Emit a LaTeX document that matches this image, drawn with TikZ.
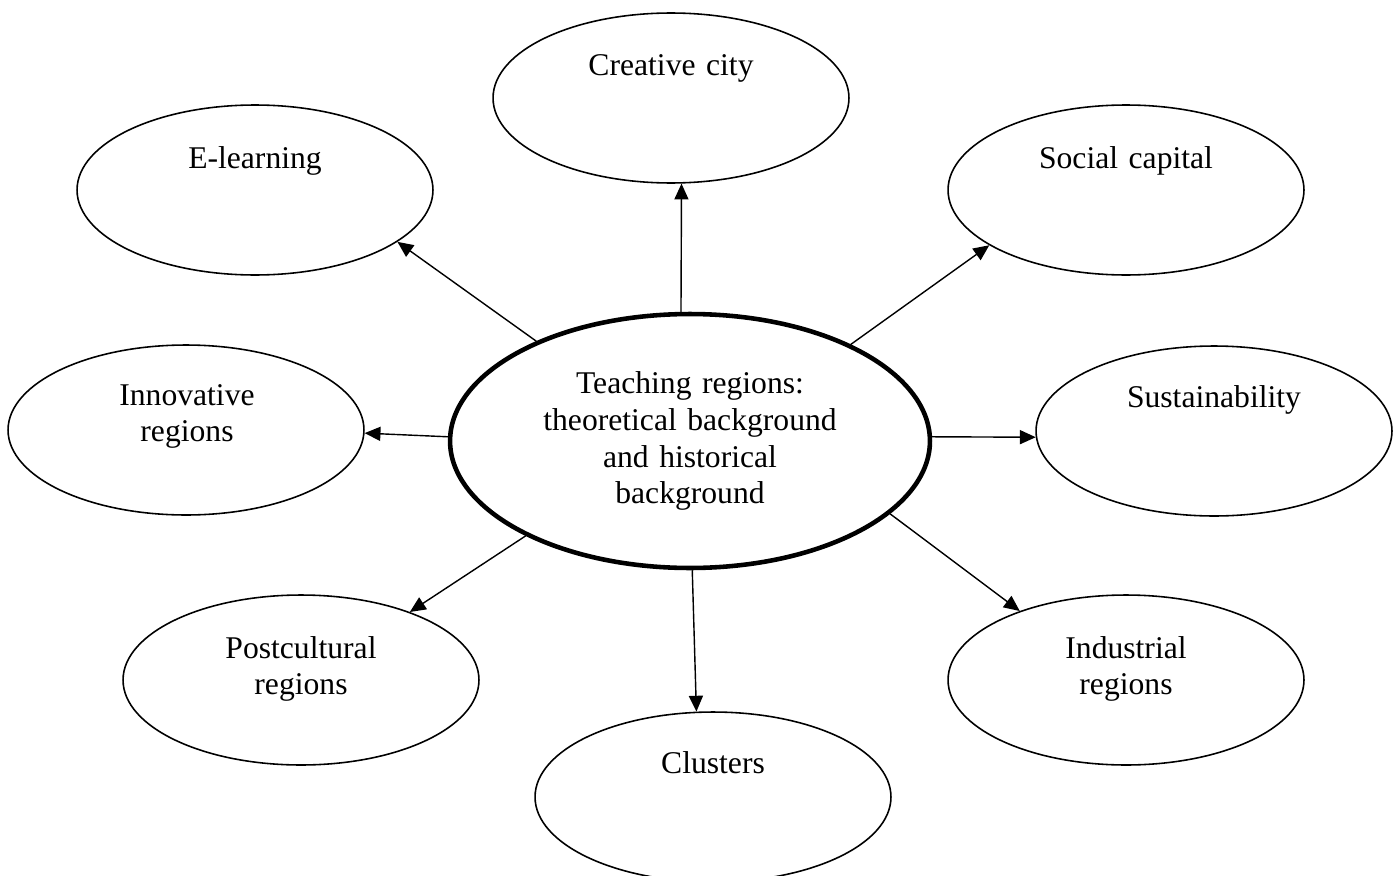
\documentclass[tikz,border=0pt]{standalone}
\usepackage{fontspec}
\setmainfont{Liberation Serif}
\usetikzlibrary{shapes.geometric, arrows.meta}

\begin{document}
\begin{tikzpicture}[x = 0.02cm, y = -0.02cm, font = \fontsize{18}{21}\selectfont,
		bubble/.style = {draw, ellipse, line width = 0.9pt, minimum width = 7.12cm, minimum height = 3.4cm, inner sep = 0pt},
		hub/.style = {draw, ellipse, line width = 2.6pt, minimum width = 9.6cm, minimum height = 5.08cm, inner sep = 0pt, text width = 6.2cm, align = center},
		caption/.style = {anchor = base, text width = 6cm, align = center, inner sep = 0pt},
		link/.style = {-{Triangle[length = 9pt, width = 8pt]}, line width = 0.8pt}]
				%	frame
				\useasboundingbox (0, 0) rectangle (1395, 875);
				
				%	centre
				\node[hub] (hub) at (690, 441) {Teaching regions:\\ theoretical background\\ and historical\\ background};
				
				%	ellipses
				\node[bubble] (creative) at (671, 98) {};
				\node[bubble] (elearning) at (255, 190) {};
				\node[bubble] (social) at (1126, 190) {};
				\node[bubble] (innovative) at (186, 430) {};
				\node[bubble] (sustain) at (1214, 431) {};
				\node[bubble] (postcultural) at (301, 680) {};
				\node[bubble] (industrial) at (1126, 680) {};
				\node[bubble] (clusters) at (713, 797) {};
				
				%	texts
				\node[caption] (creative-txt) at (671, 75) {Creative city};
				\node[caption] (elearning-txt) at (255, 168) {E-learning};
				\node[caption] (social-txt) at (1126, 168) {Social capital};
				\node[caption] (innovative-txt) at (187, 405) {Innovative\\ regions};
				\node[caption] (sustain-txt) at (1214, 407) {Sustainability};
				\node[caption] (postcultural-txt) at (301, 658) {Postcultural\\ regions};
				\node[caption] (industrial-txt) at (1126, 658) {Industrial\\ regions};
				\node[caption] (clusters-txt) at (713, 773) {Clusters};
				
				%	arrows
				\draw[link] (hub.94) -- (creative.-83.3);
				\draw[link] (hub.147.4) -- (elearning.-20.8);
				\draw[link] (hub.31.8) -- (social.-158.7);
				\draw[link] (hub.179.1) -- (innovative.-1.9);
				\draw[link] (hub.1.2) -- (sustain.-178.4);
				\draw[link] (hub.-150.3) -- (postcultural.32.3);
				\draw[link] (hub.-20.7) -- (industrial.147);
				\draw[link] (hub.-89.1) -- (clusters.101.7);
\end{tikzpicture}
\end{document}
